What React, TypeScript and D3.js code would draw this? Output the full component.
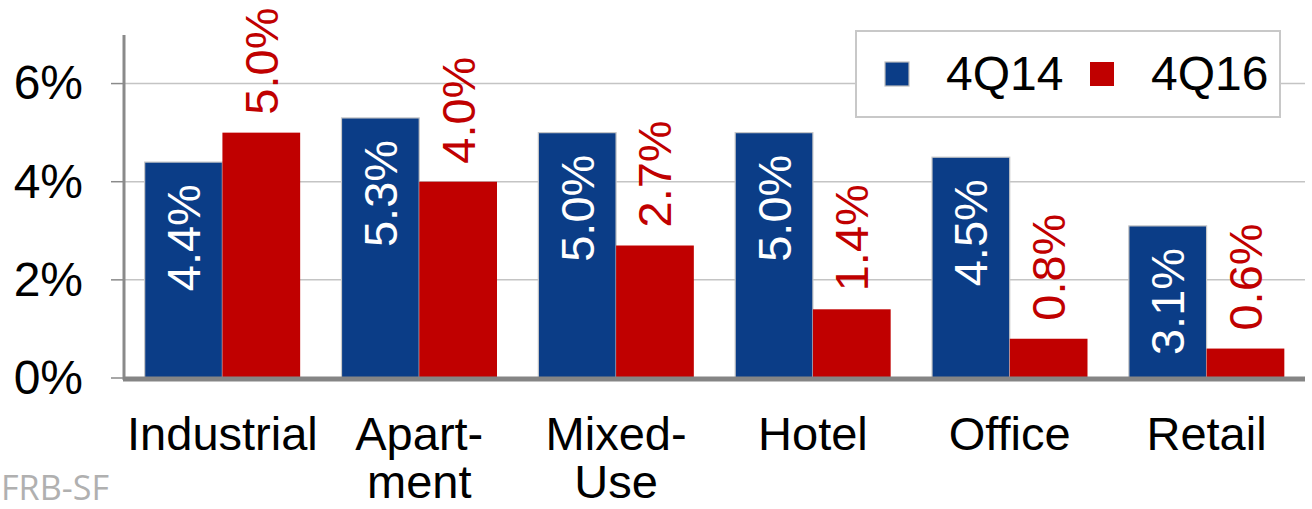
import React from "react";
import * as d3 from "d3";

const categories = ["Industrial", "Apart-\nment", "Mixed-\nUse", "Hotel", "Office", "Retail"];
const seriesNames = ["4Q14", "4Q16"];
const values4Q14 = [4.4, 5.3, 5.0, 5.0, 4.5, 3.1];
const values4Q16 = [5.0, 4.0, 2.7, 1.4, 0.8, 0.6];
const yTicks = [0, 2, 4, 6];

const COLORS = ["#0B3D87", "#C00000"];
const FONT = "Arial, 'Liberation Sans', Helvetica, sans-serif";

export default function App() {
  const W = 1312, H = 509;
  const x0 = 124, x1 = 1305;
  const x = d3.scaleBand<string>().domain(categories).range([x0, x1]).paddingInner(0.21).paddingOuter(0.105);
  const xs = d3.scaleBand<string>().domain(seriesNames).range([0, x.bandwidth()]);
  const y = d3.scaleLinear().domain([0, 7]).range([378, 34.5]);
  const series = [values4Q14, values4Q16];

  return (
    <div style={{ position: "absolute", left: 0, top: 0 }}>
      <svg width={W} height={H} style={{ display: "block" }}>
        <rect width={W} height={H} fill="#fff" />
        {/* gridlines */}
        {yTicks.filter((t) => t > 0).map((t) => (
          <line key={"g" + t} x1={x0} x2={x1} y1={y(t)} y2={y(t)} stroke="#c4c4c4" strokeWidth={1.5} />
        ))}
        {/* ticks + labels */}
        {yTicks.map((t) => (
          <g key={"t" + t}>
            <line x1={111} x2={x0} y1={y(t)} y2={y(t)} stroke="#8a8a8a" strokeWidth={1.5} />
            <text x={83} y={y(t)} dy="0.33em" textAnchor="end" fontFamily={FONT} fontSize={48} fill="#000">
              {t + "%"}
            </text>
          </g>
        ))}
        {/* bars */}
        {categories.map((c, i) => (
          <g key={c}>
            {series.map((vals, s) => {
              const bx = (x(c) as number) + (xs(seriesNames[s]) as number);
              const bw = xs.bandwidth();
              return (
                <rect
                  key={s}
                  x={bx}
                  y={y(vals[i])}
                  width={bw}
                  height={y(0) - y(vals[i])}
                  fill={COLORS[s]}
                  stroke={s === 0 ? "#c8c8c8" : "none"}
                  strokeWidth={1.2}
                />
              );
            })}
          </g>
        ))}
        {/* data labels */}
        {categories.map((c, i) => (
          <g key={"l" + c}>
            {series.map((vals, s) => {
              const cx = (x(c) as number) + (xs(seriesNames[s]) as number) + xs.bandwidth() / 2;
              const top = y(vals[i]);
              const inside = s === 0;
              const ay = inside ? top + 22 : top - 18;
              return (
                <text
                  key={s}
                  transform={`translate(${cx},${ay}) rotate(-90)`}
                  textAnchor={inside ? "end" : "start"}
                  dominantBaseline="central"
                  fontFamily={FONT}
                  fontSize={47}
                  fill={inside ? "#fff" : COLORS[1]}
                >
                  {vals[i].toFixed(1) + "%"}
                </text>
              );
            })}
          </g>
        ))}
        {/* axes */}
        <line x1={x0} x2={x0} y1={35} y2={380} stroke="#8a8a8a" strokeWidth={3} />
        <line x1={x0 - 1} x2={x1} y1={379} y2={379} stroke="#858585" strokeWidth={5} />
        {/* category labels */}
        {categories.map((c) => {
          const cx = (x(c) as number) + x.bandwidth() / 2;
          const lines = c.split("\n");
          return (
            <text key={"c" + c} x={cx} y={450} textAnchor="middle" fontFamily={FONT} fontSize={47} fill="#000">
              {lines.map((ln, k) => (
                <tspan key={k} x={cx} dy={k === 0 ? 0 : 48}>
                  {ln}
                </tspan>
              ))}
            </text>
          );
        })}
        {/* legend */}
        <rect x={856} y={31} width={424} height={86} fill="#fff" stroke="#c8c8c8" strokeWidth={2} />
        {seriesNames.map((n, s) => {
          const lx = s === 0 ? 885 : 1090;
          return (
            <g key={"lg" + n}>
              <rect x={lx} y={62} width={24} height={24} fill={COLORS[s]} stroke={s === 0 ? "#bdbdbd" : "none"} strokeWidth={1.2} />
              <text x={lx + 61} y={90} fontFamily={FONT} fontSize={48} fill="#000">
                {n}
              </text>
            </g>
          );
        })}
        {/* source */}
        <text x={1} y={500} fontFamily="'Open Sans', 'Noto Sans', sans-serif" fontSize={34} fill="#b0b0b0" textLength={108} lengthAdjust="spacingAndGlyphs">
          FRB-SF
        </text>
      </svg>
    </div>
  );
}
